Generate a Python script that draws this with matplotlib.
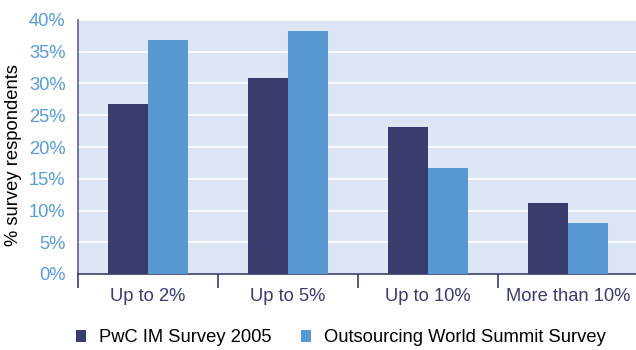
import numpy as np
import matplotlib
matplotlib.use('Agg')
import matplotlib.pyplot as plt
from matplotlib.ticker import FixedLocator, FuncFormatter

# survey results, share of respondents (%)
categories = ['Up to 2%', 'Up to 5%', 'Up to 10%', 'More than 10%']
pwc_2005 = [26.8, 30.9, 23.1, 11.2]
outsourcing_summit = [36.9, 38.2, 16.7, 8.1]
series_names = ['PwC IM Survey 2005', 'Outsourcing World Summit Survey']
y_ticks = [0, 5, 10, 15, 20, 25, 30, 35, 40]

navy = '#383d6e'
blue = '#5899d4'
bg = '#dde6f4'
tick_blue = '#5b9bd5'
fs = 13.2

plt.rcParams['font.family'] = ['Liberation Sans', 'DejaVu Sans']

fig = plt.figure(figsize=(6.36, 3.5), dpi=100)
ax = fig.add_axes([78 / 636, 76 / 350, 560 / 636, 254 / 350])
ax.set_facecolor(bg)

x = np.arange(len(categories))
w = 0.287
ax.bar(x - w / 2, pwc_2005, width=w, color=navy, label=series_names[0], zorder=3)
ax.bar(x + w / 2, outsourcing_summit, width=w, color=blue, label=series_names[1], zorder=3)

ax.set_xlim(-0.5, len(categories) - 0.5)
ax.set_ylim(0, 40)

ax.yaxis.set_major_locator(FixedLocator(y_ticks))
ax.yaxis.set_major_formatter(FuncFormatter(lambda v, p: f'{v:.0f}%'))
ax.tick_params(axis='y', length=0, pad=9, labelsize=fs, labelcolor=tick_blue)
ax.grid(axis='y', color='white', linewidth=1.2, zorder=1)

# boundaries get the tick marks, centres get the labels
ax.xaxis.set_major_locator(FixedLocator(np.arange(len(categories) + 1) - 0.5))
ax.xaxis.set_major_formatter(FuncFormatter(lambda v, p: ''))
ax.xaxis.set_minor_locator(FixedLocator(x))
ax.set_xticklabels(categories, minor=True)
ax.tick_params(axis='x', which='major', length=10, width=1.2, color=navy, direction='out')
ax.tick_params(axis='x', which='minor', length=0, pad=10, labelsize=fs, labelcolor=navy)

for side in ('top', 'right'):
    ax.spines[side].set_visible(False)
ax.spines['left'].set_color('#5d6391')
ax.spines['left'].set_linewidth(1.2)
ax.spines['bottom'].set_color(navy)
ax.spines['bottom'].set_linewidth(1.2)

ax.set_ylabel('% survey respondents', fontsize=fs, color='black')
ax.yaxis.set_label_coords(-0.1, 0.468)

fig.legend(loc='center left', bbox_to_anchor=(76 / 636, 1 - 338 / 350), ncol=2,
           frameon=False, fontsize=fs, handlelength=0.55, handleheight=0.55,
           handletextpad=0.7, columnspacing=1.6, borderpad=0, borderaxespad=0)

fig.savefig('out.png', dpi=100)
